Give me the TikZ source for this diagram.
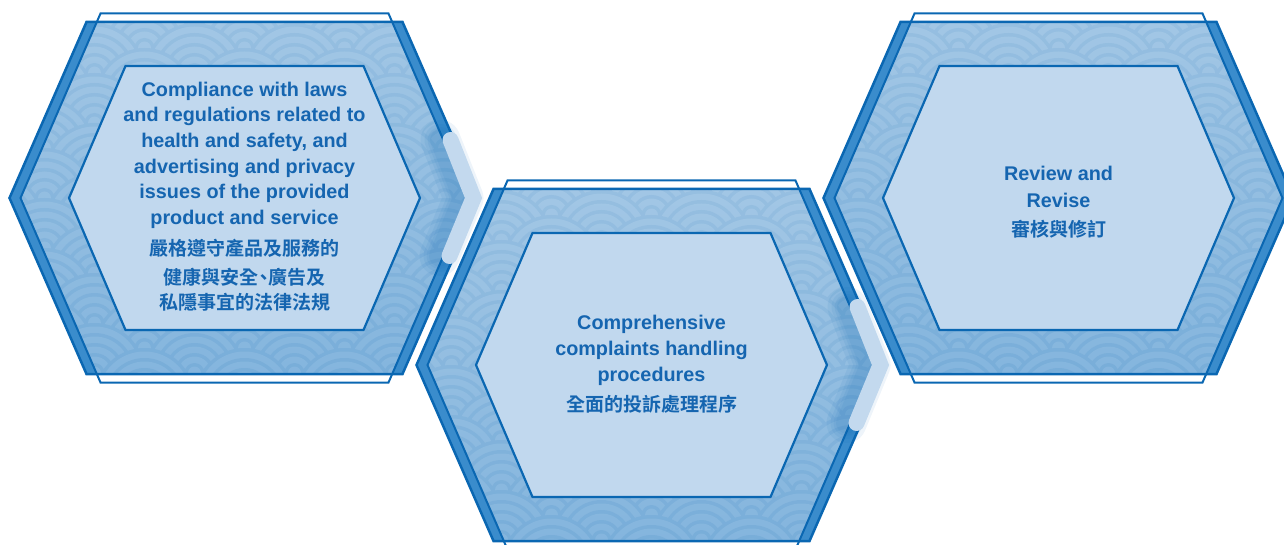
\documentclass[tikz,border=0pt]{standalone}
\usepackage{fontspec}
\setmainfont{Liberation Sans}
\newfontfamily\cjk{Noto Sans CJK TC}[BoldFont={Noto Sans CJK TC Bold}]
\usetikzlibrary{calc}
\definecolor{hexline}{HTML}{0A67B2}
\definecolor{hexstripe}{HTML}{3A8CCC}
\definecolor{patA}{HTML}{92BDE1}
\definecolor{patB}{HTML}{84B4DC}
\definecolor{innerfill}{HTML}{C1D8EE}
\definecolor{txt}{HTML}{1565B0}
\definecolor{chev}{HTML}{C3D9EE}
% #1 options, #2 centre, #3 half height, #4 half top edge, #5 half width at vertex
\newcommand\hexpath[5]{\path[#1] ($(#2)+(-#4,#3)$) -- ($(#2)+(#4,#3)$) -- ($(#2)+(#5,0)$) -- ($(#2)+(#4,-#3)$) -- ($(#2)+(-#4,-#3)$) -- ($(#2)+(-#5,0)$) -- cycle;}
\tikzset{
  entxt/.style={text=txt, font=\bfseries\fontsize{19.8}{24}\selectfont, anchor=base, inner sep=0pt},
  zhtxt/.style={text=txt, font=\cjk\bfseries\fontsize{19}{24}\selectfont, anchor=base, inner sep=0pt},
  chevline/.style={draw=chev, line width=16pt, line cap=round, line join=miter},
  chevshadow/.style={draw=hexline, line cap=round, line join=round, opacity=0.07}
}
\begin{document}
\begin{tikzpicture}[x=1pt,y=1pt]
\useasboundingbox (0,0) rectangle (1284,-545);
\coordinate (h1) at (244.5,-198);
\coordinate (h2) at (651.5,-365);
\coordinate (h3) at (1058.5,-198);

\foreach \c in {h1,h2,h3}{
  \hexpath{fill=hexstripe}{\c}{176}{158}{235}
  \begin{scope}
    \hexpath{clip}{\c}{176}{147.7}{224}
    \begin{scope}[shift={(\c)}]
      \foreach \j in {0,...,17}{
        \foreach \i in {0,...,6}{
          \pgfmathsetmacro\px{-300+100*\i+50*mod(\j,2)}
          \pgfmathsetmacro\py{200-25*\j}
          \foreach \k in {0,...,4}{
            \pgfmathsetmacro\rr{50-10*\k}
            \pgfmathsetmacro\rs{46.5-10*\k}
            \fill[patB] (\px,\py) circle[radius=\rr];
            \fill[patA] (\px,\py) circle[radius=\rs];
          }
        }
      }
    \end{scope}
    \hexpath{top color=white, bottom color=hexstripe, opacity=0.15}{\c}{176}{147.7}{224}
  \end{scope}
  \hexpath{draw=hexline, line width=2.5pt}{\c}{176}{158}{235}
  \hexpath{draw=hexline, line width=2pt}{\c}{184.5}{144}{224}
  \hexpath{fill=innerfill, draw=hexline, line width=2.2pt}{\c}{132}{119}{175.5}
}

% chevrons between the steps
\foreach \c in {h1,h2}{
  \foreach \w in {40,32,26,21}{
    \draw[chevshadow, line width=\w pt] ($(\c)+(196,58)$) -- ($(\c)+(219,0)$) -- ($(\c)+(195,-58)$);
  }
  \draw[chevline] ($(\c)+(206,58)$) -- ($(\c)+(229,0)$) -- ($(\c)+(205,-58)$);
}

% step 1
\node[entxt] (t1a) at ($(h1)+(0,101.5)$) {Compliance with laws};
\node[entxt] (t1b) at ($(h1)+(0,76.5)$) {and regulations related to};
\node[entxt] (t1c) at ($(h1)+(0,50.5)$) {health and safety, and};
\node[entxt] (t1d) at ($(h1)+(0,24.5)$) {advertising and privacy};
\node[entxt] (t1e) at ($(h1)+(0,-0.5)$) {issues of the provided};
\node[entxt] (t1f) at ($(h1)+(0,-26.5)$) {product and service};
\node[zhtxt] (t1g) at ($(h1)+(0,-57)$) {嚴格遵守產品及服務的};
\node[zhtxt] (t1h) at ($(h1)+(0,-86)$) {健康與安全\kern-4.5pt、\kern-4.5pt廣告及};
\node[zhtxt] (t1i) at ($(h1)+(0,-111)$) {私隱事宜的法律法規};

% step 2
\node[entxt] (t2a) at ($(h2)+(0,35.5)$) {Comprehensive};
\node[entxt] (t2b) at ($(h2)+(0,9.5)$) {complaints handling};
\node[entxt] (t2c) at ($(h2)+(0,-16.5)$) {procedures};
\node[zhtxt] (t2d) at ($(h2)+(0,-46)$) {全面的投訴處理程序};

% step 3
\node[entxt] (t3a) at ($(h3)+(0,17.5)$) {Review and};
\node[entxt] (t3b) at ($(h3)+(0,-9.5)$) {Revise};
\node[zhtxt] (t3c) at ($(h3)+(0,-39)$) {審核與修訂};
\end{tikzpicture}
\end{document}
